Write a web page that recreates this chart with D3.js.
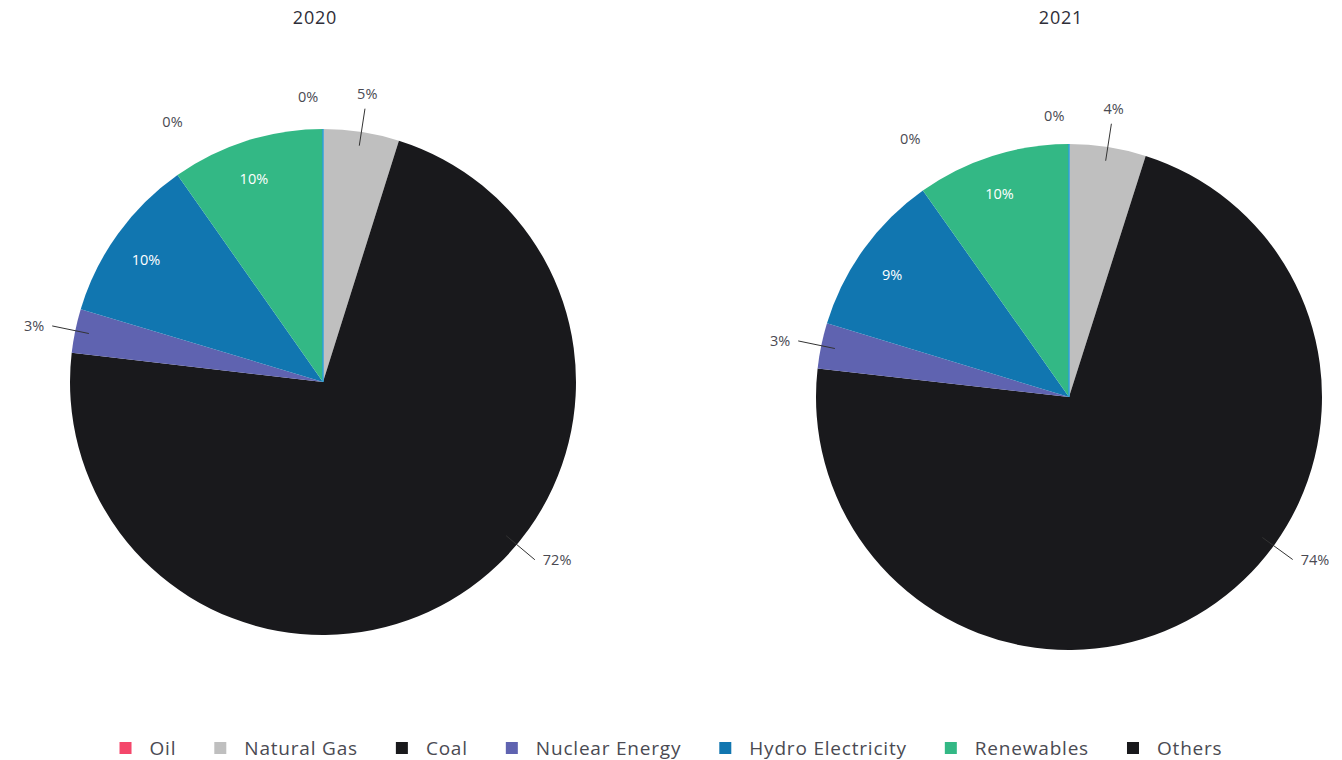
<!DOCTYPE html>
<html>
<head>
<meta charset="utf-8">
<script src="https://cdn.jsdelivr.net/npm/d3@7"></script>
<style>
  body { margin: 0; background: #fff; }
  svg text { font-family: "Open Sans", "Noto Sans", sans-serif; }
</style>
</head>
<body>
<svg id="chart" width="1342" height="760"></svg>
<script>
// data
const categories = ["Oil", "Natural Gas", "Coal", "Nuclear Energy", "Hydro Electricity", "Renewables", "Others"];
const colors = ["#f4476b", "#bfbfbf", "#19191c", "#5f63b0", "#1176b0", "#33b885", "#19191c"];
const years = ["2020", "2021"];
const values2020 = [0, 4.85, 72.0, 2.8, 10.6, 9.75, 0];
const values2021 = [0, 4.9, 71.9, 2.9, 10.5, 9.8, 0];
const labels2020 = ["0%", "5%", "72%", "3%", "10%", "10%", "0%"];
const labels2021 = ["0%", "4%", "74%", "3%", "9%", "10%", "0%"];
const insideLabel = [false, false, false, false, true, true, false];

const svg = d3.select("#chart");
const R = 253;

// layout of the two pies (label angle / radius overrides, degrees)
const pies = [
    {year: years[0], values: values2020, labels: labels2020, cx: 323, cy: 382, titleX: 315,
     over: {0: {a: -3, r: 286}, 6: {a: -30, r: 301}, 2: {a: 130}}},
    {year: years[1], values: values2021, labels: labels2021, cx: 1069, cy: 397, titleX: 1061,
     over: {0: {a: -3, r: 282}, 6: {a: -31.6, r: 303}, 2: {a: 126}}}
];

const pie = d3.pie().sort(null).value(d => d);
const arc = d3.arc().innerRadius(0).outerRadius(R);
const rad = d => d * Math.PI / 180;
const pt = (a, r) => [r * Math.sin(a), -r * Math.cos(a)];

pies.forEach(p => {
    svg.append("text")
        .attr("x", p.titleX)
        .attr("y", 24)
        .attr("text-anchor", "middle")
        .style("font-size", "18px")
        .style("font-weight", "500")
        .style("letter-spacing", "0.8px")
        .style("fill", "#2e2e38")
        .text(p.year);

    const g = svg.append("g").attr("transform", `translate(${p.cx},${p.cy})`);
    const arcs = pie(p.values);

    g.selectAll("path.slice")
        .data(arcs)
        .enter()
        .append("path")
            .attr("class", "slice")
            .attr("d", arc)
            .attr("fill", (d, i) => colors[i]);

    // thin seam at the start angle
    const top = pt(0, R);
    g.append("line")
        .attr("x1", 0).attr("y1", 0)
        .attr("x2", top[0]).attr("y2", top[1])
        .attr("stroke", "#2b9fe0")
        .attr("stroke-width", 1.4);

    arcs.forEach((d, i) => {
        const o = p.over[i] || {};
        const mid = o.a !== undefined ? rad(o.a) : (d.startAngle + d.endAngle) / 2;

        if (insideLabel[i]) {
            const c = pt(mid - rad(1.2), R * 0.85);
            g.append("text")
                .attr("x", c[0]).attr("y", c[1])
                .attr("text-anchor", "middle")
                .attr("dominant-baseline", "central")
                .style("font-size", "14.5px")
                .style("fill", "#fff")
                .text(p.labels[i]);
            return;
        }

        if (o.r) {
            // zero slices: no leader line
            const c = pt(mid, o.r);
            g.append("text")
                .attr("x", c[0]).attr("y", c[1])
                .attr("text-anchor", "middle")
                .attr("dominant-baseline", "central")
                .style("font-size", "14.5px")
                .style("fill", "#4a4a52")
                .text(p.labels[i]);
            return;
        }

        const a1 = pt(mid, R * 0.945), a2 = pt(mid, R * 1.093);
        g.append("line")
            .attr("x1", a1[0]).attr("y1", a1[1])
            .attr("x2", a2[0]).attr("y2", a2[1])
            .attr("stroke", "#333")
            .attr("stroke-width", 1);

        const s = Math.sin(mid);
        let tx, ty, anchor;
        if (Math.abs(s) < 0.35) {
            const c = pt(mid, R * 1.093 + 15);
            tx = c[0]; ty = c[1]; anchor = "middle";
        } else {
            tx = a2[0] + (s > 0 ? 8 : -8); ty = a2[1];
            anchor = s > 0 ? "start" : "end";
        }
        g.append("text")
            .attr("x", tx).attr("y", ty)
            .attr("text-anchor", anchor)
            .attr("dominant-baseline", "central")
            .style("font-size", "14.5px")
            .style("fill", "#4a4a52")
            .text(p.labels[i]);
    });
});

// Legend
const legend = svg.append("g");
let lx = 0;
categories.forEach((c, i) => {
    const item = legend.append("g").attr("transform", `translate(${lx},0)`);
    item.append("rect")
        .attr("x", 0).attr("y", -6)
        .attr("width", 12).attr("height", 12)
        .attr("fill", colors[i]);
    const t = item.append("text")
        .attr("x", 30).attr("y", 0)
        .attr("dominant-baseline", "central")
        .style("font-size", "19px")
        .style("letter-spacing", "0.8px")
        .style("fill", "#4a4a52")
        .text(c);
    lx += 30 + t.node().getComputedTextLength() + 38;
});
const legendW = lx - 38;
legend.attr("transform", `translate(${671 - legendW / 2},748)`);
</script>
</body>
</html>
